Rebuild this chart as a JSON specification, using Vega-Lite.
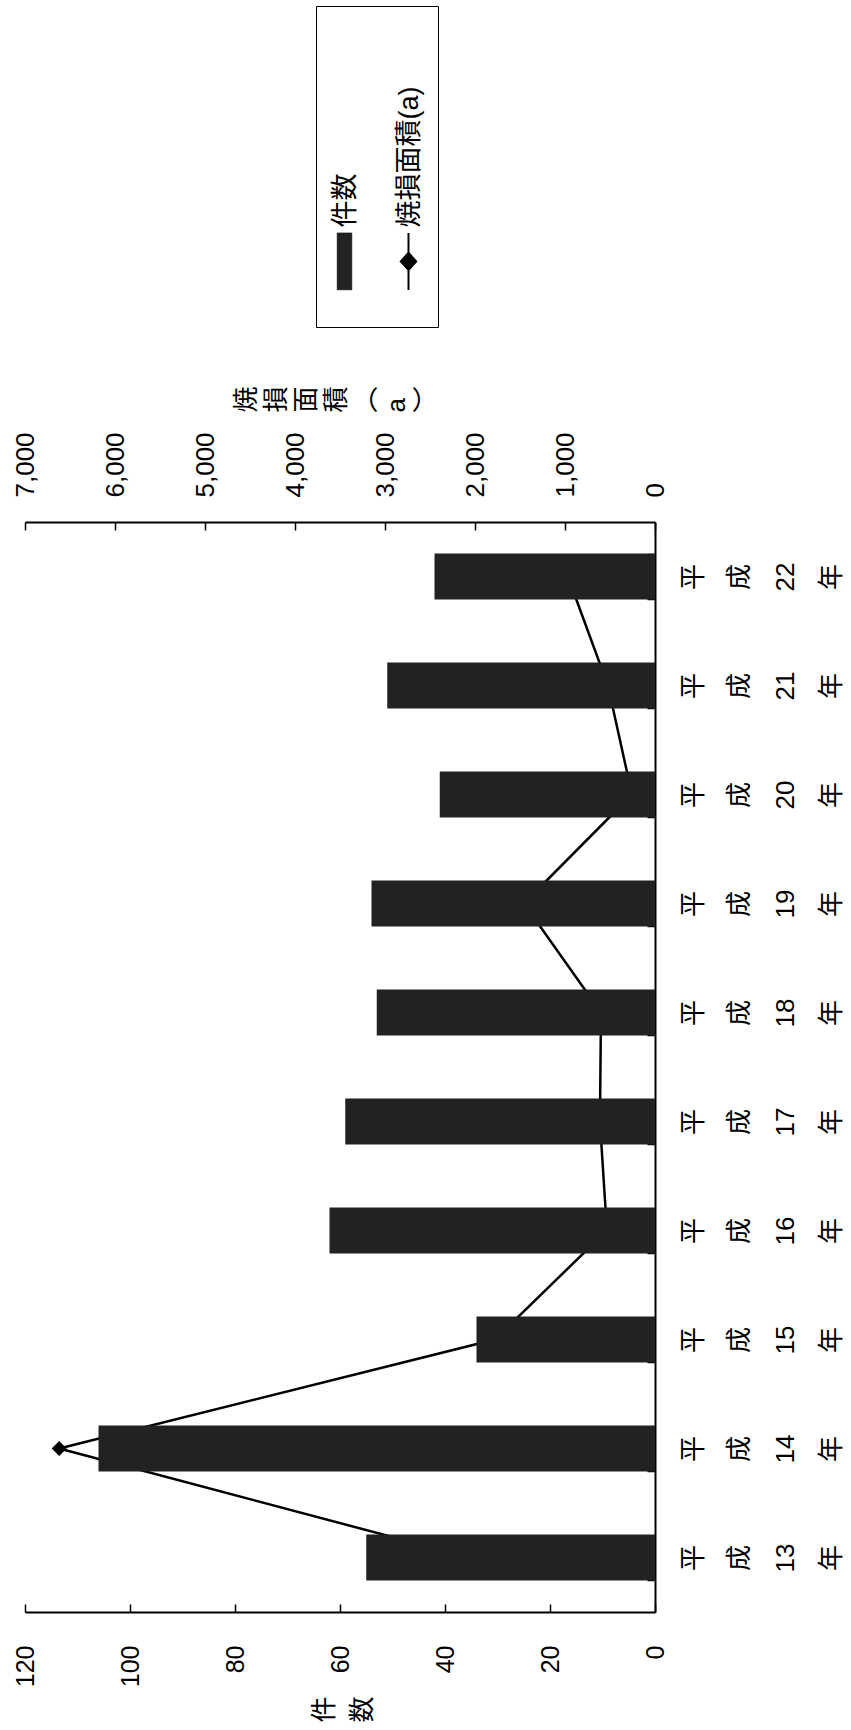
{
  "$schema": "https://vega.github.io/schema/vega-lite/v6.json",
  "width": 630,
  "height": 1090,
  "autosize": {"type": "none"},
  "padding": {"left": 25, "top": 522, "right": 196, "bottom": 118},
  "background": "white",
  "config": {
    "view": {"stroke": null},
    "font": "'Liberation Sans', 'Noto Sans CJK JP', sans-serif",
    "axis": {
      "domainColor": "black", "tickColor": "black", "labelColor": "black", "titleColor": "black",
      "grid": false, "domainWidth": 2, "tickWidth": 1.5, "labelOverlap": false,
      "labelFont": "'Liberation Sans', 'Noto Sans CJK JP', sans-serif",
      "titleFont": "'Liberation Sans', 'Noto Sans CJK JP', sans-serif",
      "titleFontWeight": "normal"
    }
  },
  "data": {
    "values": [
      {"year": "平成13年", "count": 55, "area": 2060},
      {"year": "平成14年", "count": 106, "area": 6620},
      {"year": "平成15年", "count": 34, "area": 1780},
      {"year": "平成16年", "count": 62, "area": 534},
      {"year": "平成17年", "count": 59, "area": 612},
      {"year": "平成18年", "count": 53, "area": 600},
      {"year": "平成19年", "count": 54, "area": 1457},
      {"year": "平成20年", "count": 41, "area": 256},
      {"year": "平成21年", "count": 51, "area": 523},
      {"year": "平成22年", "count": 42, "area": 968}
    ]
  },
  "encoding": {
    "y": {
      "field": "year", "type": "nominal",
      "sort": ["平成22年", "平成21年", "平成20年", "平成19年", "平成18年", "平成17年", "平成16年", "平成15年", "平成14年", "平成13年"],
      "scale": {"paddingInner": 0.58, "paddingOuter": 0.29},
      "axis": {
        "orient": "right", "title": null,
        "labelExpr": "[substring(datum.label,0,1), substring(datum.label,1,2), substring(datum.label,2,4), substring(datum.label,4,5)]",
        "labelAngle": -90, "labelAlign": "center", "labelBaseline": "top",
        "labelFontSize": 26, "labelLineHeight": 46, "labelPadding": 33,
        "tickBand": "extent", "tickSize": -8
      }
    }
  },
  "layer": [
    {
      "mark": {"type": "line", "strokeWidth": 2.5, "point": {"filled": true, "shape": "diamond", "size": 225}},
      "encoding": {
        "x": {
          "field": "area", "type": "quantitative",
          "scale": {"domain": [0, 7000], "reverse": true, "nice": false},
          "axis": {
            "orient": "top", "values": [0, 1000, 2000, 3000, 4000, 5000, 6000, 7000], "format": ",d",
            "labelAngle": -90, "labelAlign": "left", "labelBaseline": "middle",
            "labelFontSize": 26, "labelPadding": 33, "tickSize": -8,
            "title": ["焼", "損", "面", "積", "︵", "a", "︶"], "titleAngle": -90, "titleAlign": "left", "titleBaseline": "middle",
            "titleFontSize": 26, "titleLineHeight": 30, "titleX": 221, "titleY": -110
          }
        },
        "order": {"field": "year", "type": "ordinal"},
        "color": {"datum": "焼損面積(a)"}
      }
    },
    {
      "mark": {"type": "bar"},
      "encoding": {
        "x": {
          "field": "count", "type": "quantitative",
          "scale": {"domain": [0, 120], "reverse": true, "nice": false},
          "axis": {
            "orient": "bottom", "values": [0, 20, 40, 60, 80, 100, 120],
            "labelAngle": -90, "labelAlign": "right", "labelBaseline": "middle",
            "labelFontSize": 25, "labelPadding": 41, "tickSize": -8,
            "title": ["件", "数"], "titleAngle": -90, "titleAlign": "right", "titleBaseline": "middle",
            "titleFontSize": 26, "titleLineHeight": 38, "titleX": 299, "titleY": 84
          }
        },
        "color": {
          "datum": "件数",
          "scale": {"domain": ["件数", "焼損面積(a)"], "range": ["#222222", "#000000"]},
          "legend": {
            "title": null, "orient": "none", "legendX": 291, "legendY": -516,
            "direction": "horizontal", "strokeColor": "black", "fillColor": "white",
            "padding": 15, "labelFontSize": 27, "labelColor": "black", "labelLimit": 400,
            "labelFont": "'Liberation Sans', 'Noto Sans CJK JP', sans-serif",
            "symbolSize": 3249, "labelOffset": -12, "columnPadding": 36, "clipHeight": 291,
            "encoding": {
              "labels": {"angle": {"value": -90}, "dx": {"value": -61}, "baseline": {"value": "middle"}, "align": {"value": "left"}},
              "symbols": {
                "shape": {"value": {"expr": "datum.value == '件数' ? 'M-0.26,2.33H0.26V4.33H-0.26Z' : 'M0,2.33V4.33M-0.27,3.33L0,3.03L0.27,3.33L0,3.63Z'"}},
                "fill": {"value": {"expr": "datum.value == '件数' ? '#222222' : '#000000'"}},
                "stroke": {"value": "#000000"},
                "strokeWidth": {"value": {"expr": "datum.value == '件数' ? 0.5 : 2"}}
              }
            }
          }
        }
      }
    }
  ],
  "resolve": {"scale": {"x": "independent"}}
}
